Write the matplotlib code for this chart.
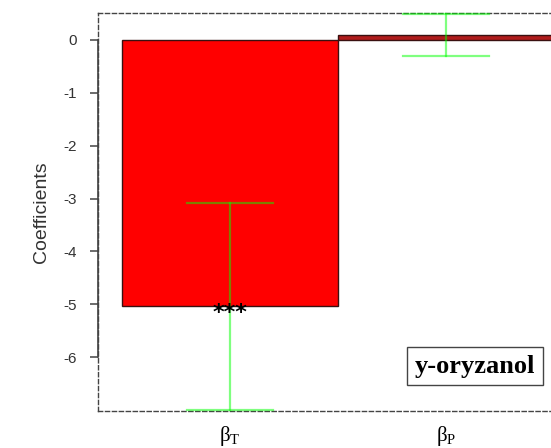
import numpy as np
import matplotlib
matplotlib.use("Agg")
import matplotlib.pyplot as plt

plt.rcParams['mathtext.fontset'] = 'custom'
plt.rcParams['mathtext.rm'] = 'Liberation Serif'
plt.rcParams['mathtext.it'] = 'Liberation Serif'

# coefficient estimates with their interval bounds
coef_names = [r'$\mathrm{\beta}_{\mathrm{T}}$', r'$\mathrm{\beta}_{\mathrm{P}}$']
coef_values = [-5.03, 0.10]
ci_upper = [-3.08, 0.49]
ci_lower = [-7.00, -0.30]
coef_stars = ['***', '']
bar_colors = ['#ff0000', '#b01c1c']
y_ticks = [0, -1, -2, -3, -4, -5, -6]
panel_label = 'y-oryzanol'

fig = plt.figure(figsize=(5.51, 4.48), dpi=100)
ax = fig.add_axes([98 / 551, 1 - 411 / 448, 462 / 551, 398 / 448])

x = np.arange(len(coef_values)) + 0.5
ax.bar(x, coef_values, width=1.0, color=bar_colors, edgecolor='#3a1010',
       linewidth=1.0, zorder=2)

# confidence intervals, semi transparent green so they tint over the bars
for xi, lo, hi in zip(x, ci_lower, ci_upper):
    ax.plot([xi, xi], [lo, hi], color='#00ff00', alpha=0.5, lw=1.6,
            zorder=3, clip_on=False)
    for yv in (lo, hi):
        ax.plot([xi - 0.2, xi + 0.2], [yv, yv], color='#00ff00', alpha=0.5,
                lw=1.6, zorder=3, clip_on=False)

for xi, v, s in zip(x, coef_values, coef_stars):
    if s:
        ax.text(xi, v - 0.14, s, ha='center', va='center', fontsize=16,
                fontweight='bold', family='DejaVu Sans', color='black',
                zorder=4)

ax.set_xlim(-0.111, 2.028)
ax.set_ylim(-7.02, 0.51)

# dashed box around the plotting region
for side in ['left', 'right', 'top', 'bottom']:
    ax.spines[side].set_linestyle((0, (3, 2)))
    ax.spines[side].set_color('#444444')
    ax.spines[side].set_linewidth(1.0)

# solid y axis line over the tick range only
ax.plot([0, 0], [min(y_ticks), max(y_ticks)], color='#444444', lw=1.2,
        transform=ax.get_yaxis_transform(), clip_on=False, zorder=5)

ax.set_yticks(y_ticks)
ax.set_yticklabels([str(t) for t in y_ticks], family='Liberation Sans',
                   fontsize=11, color='#333333')
ax.tick_params(axis='y', length=6, width=1.1, color='#444444', pad=9)
ax.set_xticks(x)
ax.set_xticklabels(coef_names, fontsize=15)
ax.tick_params(axis='x', length=0, pad=9)
ax.set_ylabel('Coefficients', family='Liberation Sans', fontsize=14,
              color='#333333', labelpad=10)

ax.text(475, 448 - 366, panel_label, transform=None, ha='center',
        va='center', family='Liberation Serif', fontweight='bold',
        fontsize=19,
        bbox=dict(boxstyle='square,pad=0.28', facecolor='white',
                  edgecolor='#444444', linewidth=1.0), zorder=6)

fig.savefig('out.png', dpi=100)
